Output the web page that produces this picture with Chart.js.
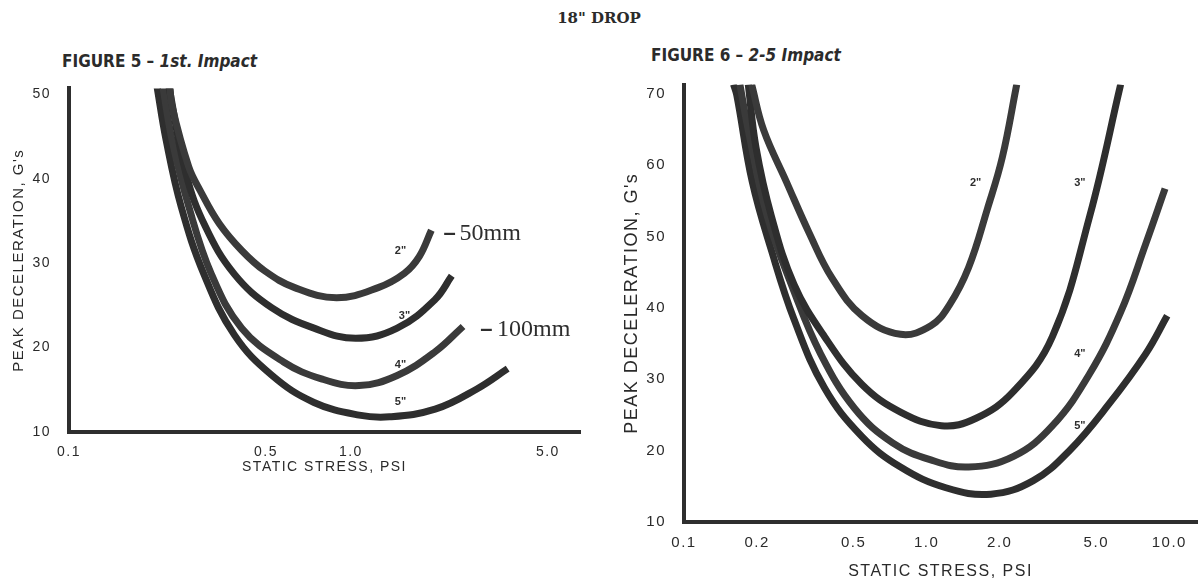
<!DOCTYPE html>
<html>
<head>
<meta charset="utf-8">
<title>18" DROP</title>
<script src="https://cdn.jsdelivr.net/npm/chart.js@4.4.1/dist/chart.umd.min.js"></script>
<style>
  body {
    margin: 0;
    background: #fff;
    width: 1198px;
    height: 583px;
    position: relative;
    overflow: hidden;
    color: #2b2b2b;
  }
  .box { position: absolute; }
  #drop {
    position: absolute;
    left: 0;
    top: 9px;
    width: 1198px;
    text-align: center;
    font: bold 15px "DejaVu Serif", serif;
  }
  .fig {
    position: absolute;
    white-space: nowrap;
    font: bold 17px "Liberation Sans Narrow", "DejaVu Sans Condensed", sans-serif;
  }
  .fig i { font-style: italic; }
</style>
</head>
<body>
<div id="drop">18" DROP</div>
<div class="fig" style="left:62px; top:51px;">FIGURE 5 &ndash; <i>1st. Impact</i></div>
<div class="fig" style="left:651px; top:45px;">FIGURE 6 &ndash; <i>2-5 Impact</i></div>
<div class="box" style="left:0; top:62px; width:600px; height:418px;"><canvas id="fig5-chart"></canvas></div>
<div class="box" style="left:600px; top:56px; width:598px; height:527px;"><canvas id="fig6-chart"></canvas></div>

<script>
// FIGURE 5 - 1st. Impact (static stress in psi, peak deceleration in G's)
const fig5Names = ['2"', '3"', '4"', '5"'];
const fig5Stress2 = [0.228, 0.232, 0.266, 0.292, 0.341, 0.41, 0.494, 0.632, 0.89, 1.25, 1.55, 1.75, 1.93];
const fig5Decel2 = [51, 48.6, 41.4, 38.6, 34.7, 31.5, 29.1, 27.1, 25.9, 27.1, 28.8, 30.8, 33.9];
const fig5Stress3 = [0.226, 0.26, 0.305, 0.386, 0.525, 0.74, 1.04, 1.46, 1.99, 2.28];
const fig5Decel3 = [51, 40.6, 34.3, 28.7, 24.7, 22.3, 21.1, 22.3, 25.7, 28.5];
const fig5Stress4 = [0.215, 0.232, 0.266, 0.32, 0.41, 0.577, 0.786, 1.07, 1.46, 1.99, 2.5];
const fig5Decel4 = [51, 44.6, 36.7, 28.7, 22.3, 18.3, 16.3, 15.5, 16.7, 19.5, 22.5];
const fig5Stress5 = [0.205, 0.221, 0.25, 0.301, 0.386, 0.525, 0.74, 1.07, 1.37, 1.99, 2.8, 3.6];
const fig5Decel5 = [51, 44.6, 36.7, 28.7, 21.5, 16.7, 13.5, 12.0, 11.8, 12.7, 15.1, 17.5];
const fig5XTicks = [0.1, 0.5, 1, 5];
const fig5XLabels = ["0.1", "0.5", "1.0", "5.0"];
const fig5YTicks = [10, 20, 30, 40, 50];

// FIGURE 6 - 2-5 Impact
const fig6Names = ['2"', '3"', '4"', '5"'];
const fig6Stress2 = [0.19, 0.213, 0.264, 0.328, 0.407, 0.542, 0.78, 1.04, 1.24, 1.49, 1.78, 2.05, 2.35];
const fig6Decel2 = [71.3, 64.9, 57.7, 50.5, 44.2, 38.9, 36.3, 37.5, 40.4, 45.7, 53.9, 61.1, 71.3];
const fig6Stress3 = [0.184, 0.198, 0.229, 0.284, 0.379, 0.54, 0.78, 1.15, 1.59, 2.28, 3.3, 4.7, 6.3];
const fig6Decel3 = [71.3, 62.5, 52.9, 43.3, 36.0, 29.3, 25.4, 23.5, 24.5, 28.3, 36.0, 52.9, 71.3];
const fig6Stress4 = [0.17, 0.184, 0.22, 0.284, 0.365, 0.505, 0.724, 1.04, 1.49, 2.28, 3.3, 4.68, 6.3, 8.0, 9.6];
const fig6Decel4 = [71.3, 64.9, 52.9, 42.3, 33.6, 25.9, 21.1, 18.7, 17.7, 19.2, 23.5, 30.7, 39.4, 49.0, 56.7];
const fig6Stress5 = [0.16, 0.165, 0.191, 0.229, 0.284, 0.379, 0.54, 0.78, 1.2, 1.84, 2.75, 3.9, 5.6, 8.0, 9.8];
const fig6Decel5 = [71.3, 69.8, 57.7, 48.1, 38.4, 28.8, 22.0, 17.7, 14.8, 13.9, 15.8, 20.1, 26.4, 33.6, 38.9];
const fig6XTicks = [0.1, 0.2, 0.5, 1, 2, 5, 10];
const fig6XLabels = ["0.1", "0.2", "0.5", "1.0", "2.0", "5.0", "10.0"];
const fig6YTicks = [10, 20, 30, 40, 50, 60, 70];

const ink = "#2e2e2e";
const grey = "#3a3a3a";
const tickInk = "#2a2a2a";

function toPoints(xs, ys) {
  return xs.map((x, i) => ({ x: x, y: ys[i] }));
}

function curve(name, xs, ys, color) {
  return {
    label: name,
    data: toPoints(xs, ys),
    borderColor: color,
    borderWidth: 7,
    borderCapStyle: "butt",
    pointRadius: 0,
    fill: false,
    tension: 0.4,
  };
}

// wider letter spacing, like the typeset originals
const spacing = {
  id: "spacing",
  beforeDraw(chart, args, opts) {
    chart.ctx.letterSpacing = opts.value || "0px";
  },
  afterDraw(chart) {
    chart.ctx.letterSpacing = "0px";
  },
};

// small text labels next to the curves
const curveLabels = {
  id: "curveLabels",
  afterDatasetsDraw(chart, args, opts) {
    const { ctx } = chart;
    const xs = chart.scales.x;
    const ys = chart.scales.y;
    ctx.save();
    ctx.letterSpacing = "0px";
    ctx.textBaseline = "middle";
    ctx.fillStyle = ink;
    (opts.items || []).forEach((item) => {
      ctx.font = item.font;
      ctx.textAlign = item.align || "center";
      ctx.fillText(item.text, xs.getPixelForValue(item.x), ys.getPixelForValue(item.y));
    });
    ctx.restore();
  },
};

function makeChart(id, cfg) {
  const ctx = document.getElementById(id);
  return new Chart(ctx, {
    type: "line",
    data: { datasets: cfg.datasets },
    plugins: [spacing, curveLabels],
    options: {
      responsive: true,
      maintainAspectRatio: false,
      animation: false,
      layout: { padding: cfg.padding },
      plugins: {
        legend: { display: false },
        tooltip: { enabled: false },
        spacing: { value: "1.5px" },
        curveLabels: { items: cfg.labels },
      },
      scales: {
        x: {
          type: "logarithmic",
          min: cfg.xMin,
          max: cfg.xMax,
          afterBuildTicks: (scale) => {
            scale.ticks = cfg.xTicks.map((v) => ({ value: v }));
          },
          afterFit: (scale) => {
            scale.height = cfg.xHeight;
          },
          ticks: {
            autoSkip: false,
            maxRotation: 0,
            padding: 12,
            color: tickInk,
            font: { family: "Liberation Sans", size: cfg.tickSize },
            callback: (value, index) => cfg.xLabels[index],
          },
          grid: { display: false, drawTicks: false },
          border: { color: ink, width: 4 },
          title: {
            display: true,
            text: "STATIC STRESS, PSI",
            color: tickInk,
            font: { family: "Liberation Sans", size: cfg.titleSize },
            padding: { top: 0, bottom: cfg.xTitlePad },
          },
        },
        y: {
          type: "linear",
          min: 10,
          max: cfg.yMax,
          afterBuildTicks: (scale) => {
            scale.ticks = cfg.yTicks.map((v) => ({ value: v }));
          },
          afterFit: (scale) => {
            scale.width = cfg.yWidth;
          },
          ticks: {
            padding: 18,
            color: tickInk,
            font: { family: "Liberation Sans", size: cfg.tickSize },
          },
          grid: { display: false, drawTicks: false },
          border: { color: ink, width: 4 },
          title: {
            display: true,
            text: "PEAK DECELERATION, G's",
            color: tickInk,
            font: { family: "Liberation Sans", size: cfg.yTitleSize },
            padding: { top: cfg.yTitlePad, bottom: 0 },
          },
        },
      },
    },
  });
}

const bold = "bold 11px 'Liberation Sans', sans-serif";
const serif = "24px 'Liberation Serif', serif";
const dash = "bold 22px 'Liberation Sans', sans-serif";

makeChart("fig5-chart", {
  datasets: [
    curve(fig5Names[0], fig5Stress2, fig5Decel2, grey),
    curve(fig5Names[1], fig5Stress3, fig5Decel3, ink),
    curve(fig5Names[2], fig5Stress4, fig5Decel4, grey),
    curve(fig5Names[3], fig5Stress5, fig5Decel5, ink),
  ],
  labels: [
    { text: fig5Names[0], x: 1.5, y: 31.5, font: bold },
    { text: fig5Names[1], x: 1.55, y: 23.7, font: bold },
    { text: fig5Names[2], x: 1.5, y: 17.9, font: bold },
    { text: fig5Names[3], x: 1.5, y: 13.5, font: bold },
    { text: "\u2013", x: 2.13, y: 33.5, font: dash, align: "left" },
    { text: "50mm", x: 2.43, y: 33.5, font: serif, align: "left" },
    { text: "\u2013", x: 2.88, y: 22.1, font: dash, align: "left" },
    { text: "100mm", x: 3.3, y: 22.1, font: serif, align: "left" },
  ],
  padding: { top: 26, right: 20, left: 0, bottom: 0 },
  xMin: 0.1,
  xMax: 6.5,
  xTicks: fig5XTicks,
  xLabels: fig5XLabels,
  xHeight: 48,
  xTitlePad: 4,
  yMax: 50.7,
  yTicks: fig5YTicks,
  yWidth: 69,
  yTitlePad: 10,
  tickSize: 14,
  titleSize: 14,
  yTitleSize: 15,
});

makeChart("fig6-chart", {
  datasets: [
    curve(fig6Names[0], fig6Stress2, fig6Decel2, grey),
    curve(fig6Names[1], fig6Stress3, fig6Decel3, ink),
    curve(fig6Names[2], fig6Stress4, fig6Decel4, grey),
    curve(fig6Names[3], fig6Stress5, fig6Decel5, ink),
  ],
  labels: [
    { text: fig6Names[0], x: 1.59, y: 57.5, font: bold },
    { text: fig6Names[1], x: 4.28, y: 57.5, font: bold },
    { text: fig6Names[2], x: 4.28, y: 33.6, font: bold },
    { text: fig6Names[3], x: 4.28, y: 23.5, font: bold },
  ],
  padding: { top: 28.5, right: 1, left: 0, bottom: 0 },
  xMin: 0.1,
  xMax: 13,
  xTicks: fig6XTicks,
  xLabels: fig6XLabels,
  xHeight: 61,
  xTitlePad: 2,
  yMax: 71.3,
  yTicks: fig6YTicks,
  yWidth: 84,
  yTitlePad: 21,
  tickSize: 15,
  titleSize: 16,
  yTitleSize: 18,
});
</script>
</body>
</html>
